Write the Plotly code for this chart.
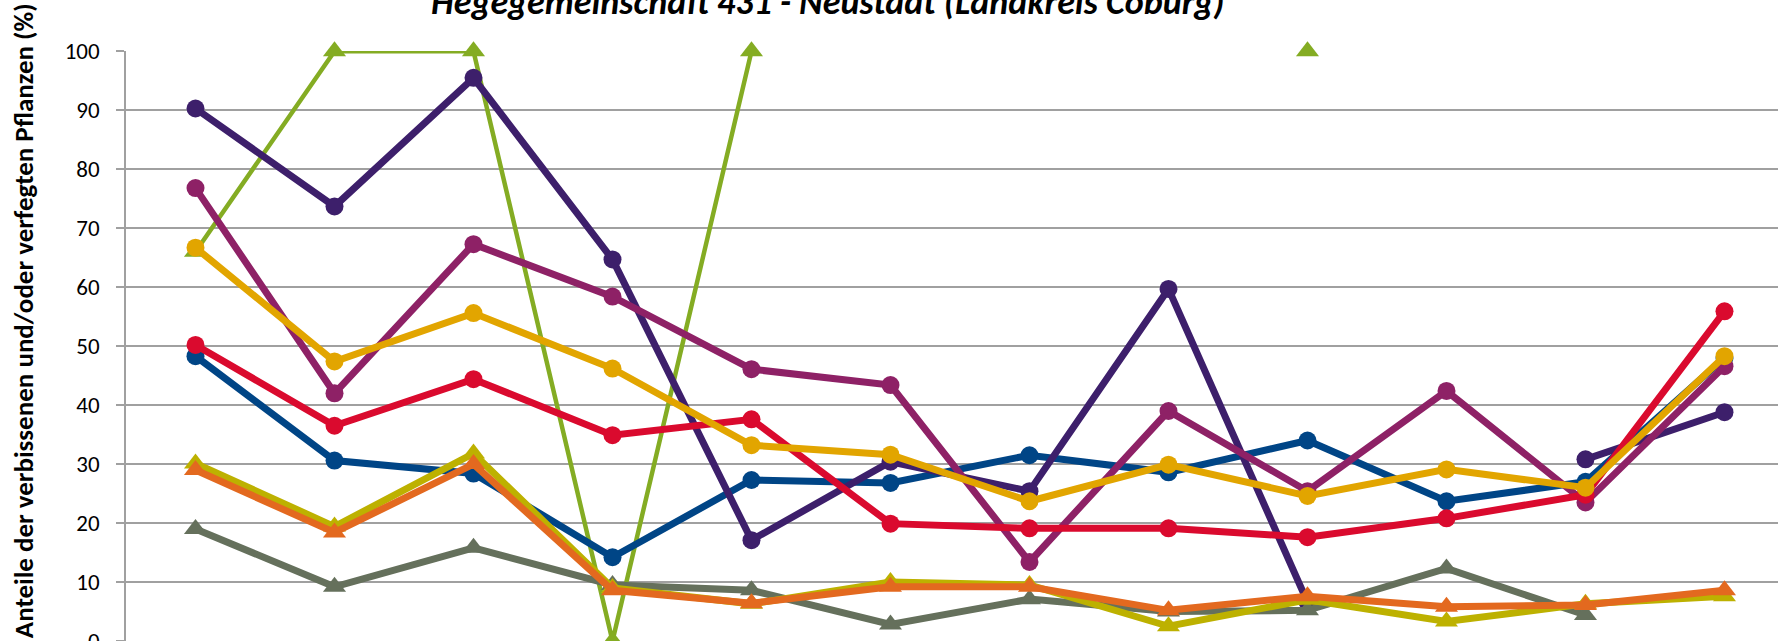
import plotly.graph_objects as go

categories = ["1", "2", "3", "4", "5", "6", "7", "8", "9", "10", "11", "12"]

s_blue = [48.3, 30.6, 28.4, 14.2, 27.3, 26.8, 31.5, 28.6, 34.0, 23.7, 27.0, 48.0]
s_red = [50.2, 36.5, 44.4, 34.9, 37.6, 19.9, 19.1, 19.1, 17.6, 20.8, 24.8, 55.9]
s_purple = [90.3, 73.7, 95.5, 64.7, 17.1, 30.4, 25.4, 59.7, 6.6, None, 30.8, 38.8]
s_magenta = [76.8, 42.0, 67.3, 58.4, 46.1, 43.4, 13.4, 39.0, 25.4, 42.4, 23.5, 46.6]
s_gold = [66.7, 47.4, 55.6, 46.2, 33.2, 31.6, 23.7, 29.9, 24.6, 29.1, 26.0, 48.3]
s_green = [66.0, 100, 100, 0, 100, None, None, None, 100, None, None, None]
s_olive = [30.1, 19.4, 31.8, 9.0, 6.3, 10.0, 9.5, 2.5, 7.0, 3.3, 6.3, 7.6]
s_orange = [29.0, 18.4, 30.0, 8.6, 6.4, 9.2, 9.2, 5.2, 7.6, 5.8, 6.1, 8.6]
s_gray = [19.0, 9.2, 15.8, 9.5, 8.6, 2.8, 7.1, 5.0, 5.2, 12.3, 4.4, None]

title_text = "Hegegemeinschaft 431 - Neustadt (Landkreis Coburg)"
ytitle_text = "Anteile der verbissenen und/oder verfegten Pflanzen (%)"
yticks = [0, 10, 20, 30, 40, 50, 60, 70, 80, 90, 100]

FONT = "Carlito, Lato, 'Liberation Sans', sans-serif"

series = [
    (s_green, "#84AC23", "triangle-up", 4.5),
    (s_blue, "#004586", "circle", 7),
    (s_purple, "#3D1F6B", "circle", 7),
    (s_magenta, "#8E2166", "circle", 7),
    (s_red, "#DA0A2E", "circle", 7),
    (s_gold, "#E2A500", "circle", 7),
    (s_gray, "#65705C", "triangle-up", 7),
    (s_olive, "#BDB100", "triangle-up", 7),
    (s_orange, "#E3691F", "triangle-up", 7),
]

fig = go.Figure()
for vals, col, sym, lw in series:
    fig.add_trace(go.Scatter(
        x=categories, y=vals, mode="lines+markers",
        line=dict(color=col, width=lw),
        marker=dict(color=col, symbol=sym, size=18 if sym == "circle" else 20),
        connectgaps=False, cliponaxis=False, showlegend=False,
    ))

fig.update_layout(
    width=1778, height=641,
    margin=dict(l=126, r=0, t=51, b=0, pad=0, autoexpand=False),
    plot_bgcolor="white", paper_bgcolor="white",
    font=dict(family=FONT, color="#000000"),
    xaxis=dict(visible=False, range=[-0.5, 11.385], type="category", automargin=False),
    yaxis=dict(
        range=[0, 100.05], tickvals=yticks, ticktext=[str(v) for v in yticks],
        showgrid=True, gridcolor="#A0A0A0", gridwidth=1.5,
        showline=True, linecolor="#A0A0A0", linewidth=1.5,
        ticks="outside", ticklen=8, tickcolor="#A0A0A0", tickwidth=1.5,
        tickfont=dict(size=23, family=FONT, color="#000000"),
        ticklabelstandoff=12, ticklabeloverflow="allow", zeroline=False,
        automargin=False,
    ),
    annotations=[
        dict(text="<b><i>" + title_text + "</i></b>", xref="paper", yref="paper",
             x=0.425, y=1.083, xanchor="center", yanchor="middle", showarrow=False,
             font=dict(size=36, family=FONT, color="#000000")),
        dict(text="<b>" + ytitle_text + "</b>", xref="paper", yref="paper",
             x=0, xshift=-103, y=0.542, xanchor="center", yanchor="middle",
             textangle=-90, showarrow=False,
             font=dict(size=27, family=FONT, color="#000000")),
    ],
)

fig.write_html("out.html", config={"displayModeBar": False},
               post_script="document.body.style.margin='0';document.body.style.overflow='hidden';")
